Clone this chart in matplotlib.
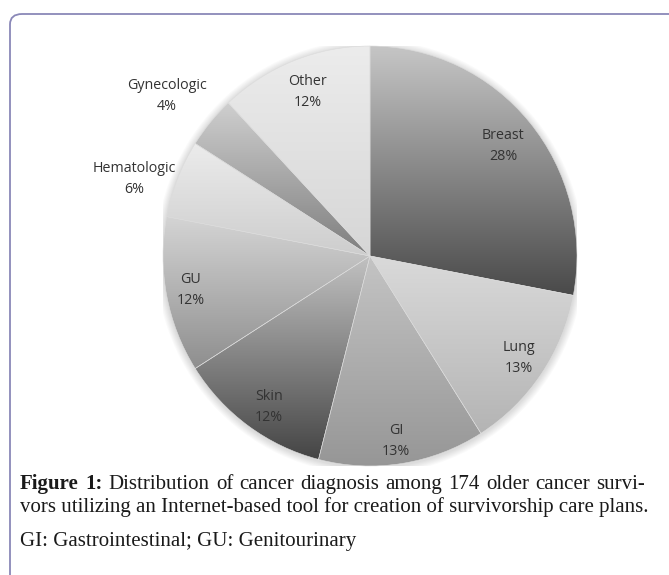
import numpy as np
import matplotlib
matplotlib.use("Agg")
import matplotlib.pyplot as plt
from matplotlib.patches import FancyBboxPatch, Ellipse
from matplotlib.colors import to_rgb

# ---- data ----
categories = ["Breast", "Lung", "GI", "Skin", "GU", "Hematologic", "Gynecologic", "Other"]
percents = [28, 13, 13, 12, 12, 6, 4, 12]

# ---- style ----
grad_top = ["#c6c6c6", "#dadada", "#c4c4c4", "#c2c2c2", "#d4d4d4", "#ececec", "#cfcfcf", "#ececec"]
grad_bot = ["#4a4a4a", "#b4b4b4", "#969696", "#454545", "#8e8e8e", "#cdcdcd", "#7e7e7e", "#d6d6d6"]
label_r = [0.829, 0.869, 0.892, 0.871, 0.880, 1.198, 1.242, 0.837]
label_dtheta = [-0.4, 0.2, -0.9, 1.9, -0.3, 3.8, 1.8, -0.6]

W, H = 669, 575
fig = plt.figure(figsize=(W / 100, H / 100), dpi=100)
fig.patch.set_facecolor("white")

# border (rounded, only top-left visible)
border = FancyBboxPatch((10 / W, -0.2), 1.2, (H - 14) / H + 0.2,
                        boxstyle="round,pad=0,rounding_size=0.018",
                        transform=fig.transFigure, facecolor="none",
                        edgecolor="#8a88b8", linewidth=1.3, zorder=0)
fig.patches.append(border)

# pie axes
cx, cy, rx, ry = 370, 256, 207, 210
ax = fig.add_axes([(cx - rx) / W, (H - cy - ry) / H, 2 * rx / W, 2 * ry / H])
ax.set_axis_off()

# soft shadow
for k in range(7):
    s = 1.0 + 0.005 * (k + 1)
    ax.add_patch(Ellipse((0.0, -0.006), 2 * s, 2 * s, facecolor="#000000",
                         alpha=0.018, edgecolor="none", zorder=0))

wedges, _ = ax.pie(percents, startangle=90, counterclock=False, radius=1,
                   wedgeprops=dict(linewidth=0.4, edgecolor="#dcdcdc"))
ax.set_aspect("auto")
ax.set_xlim(-1, 1)
ax.set_ylim(-1, 1)

lab_font = dict(fontsize=10.3, family="Open Sans", color="#333333", zorder=5,
                ha="center", va="center")
for i, w in enumerate(wedges):
    w.set_facecolor("none")
    w.set_zorder(3)
    verts = w.get_patch_transform().transform(w.get_path().vertices)
    x0, x1 = verts[:, 0].min(), verts[:, 0].max()
    y0, y1 = verts[:, 1].min(), verts[:, 1].max()
    t = np.linspace(0, 1, 256)[:, None]
    c0 = np.array(to_rgb(grad_top[i]))
    c1 = np.array(to_rgb(grad_bot[i]))
    img = (c0[None, None, :] * (1 - t[:, :, None]) + c1[None, None, :] * t[:, :, None])
    img = np.repeat(img, 2, axis=1)
    im = ax.imshow(img, extent=[x0, x1, y0, y1], origin="upper",
                   aspect="auto", interpolation="bilinear", zorder=2)
    im.set_clip_path(w)
    ang = np.deg2rad((w.theta1 + w.theta2) / 2 + label_dtheta[i])
    lx, ly = label_r[i] * np.cos(ang), label_r[i] * np.sin(ang)
    ax.text(lx, ly + 0.05, categories[i], **lab_font)
    ax.text(lx, ly - 0.05, f"{percents[i]}%", **lab_font)

ax.set_xlim(-1, 1)
ax.set_ylim(-1, 1)

# caption
fs = 15
cap = dict(fontsize=fs, family="Liberation Serif", va="baseline", ha="left", color="#1a1a1a")
renderer = fig.canvas.get_renderer()

# line 1 : justified between x=20 and x=645
words1 = [("Figure", "bold"), ("1:", "bold")] + [(wd, "normal") for wd in
          "Distribution of cancer diagnosis among 174 older cancer survi-".split()]
y1 = 1 - 489 / H
objs = []
for wd, wt in words1:
    objs.append(fig.text(0, y1, wd, fontweight=wt, **cap))
widths = [o.get_window_extent(renderer).width for o in objs]
gap = (645 - 20 - sum(widths)) / (len(objs) - 1)
x = 20.0
for o, wdt in zip(objs, widths):
    o.set_x(x / W)
    x += wdt + gap

fig.text(20 / W, 1 - 512 / H,
         "vors utilizing an Internet-based tool for creation of survivorship care plans.", **cap)
fig.text(20 / W, 1 - 546 / H, "GI: Gastrointestinal; GU: Genitourinary", **cap)

fig.savefig("out.png", dpi=100, facecolor="white")
